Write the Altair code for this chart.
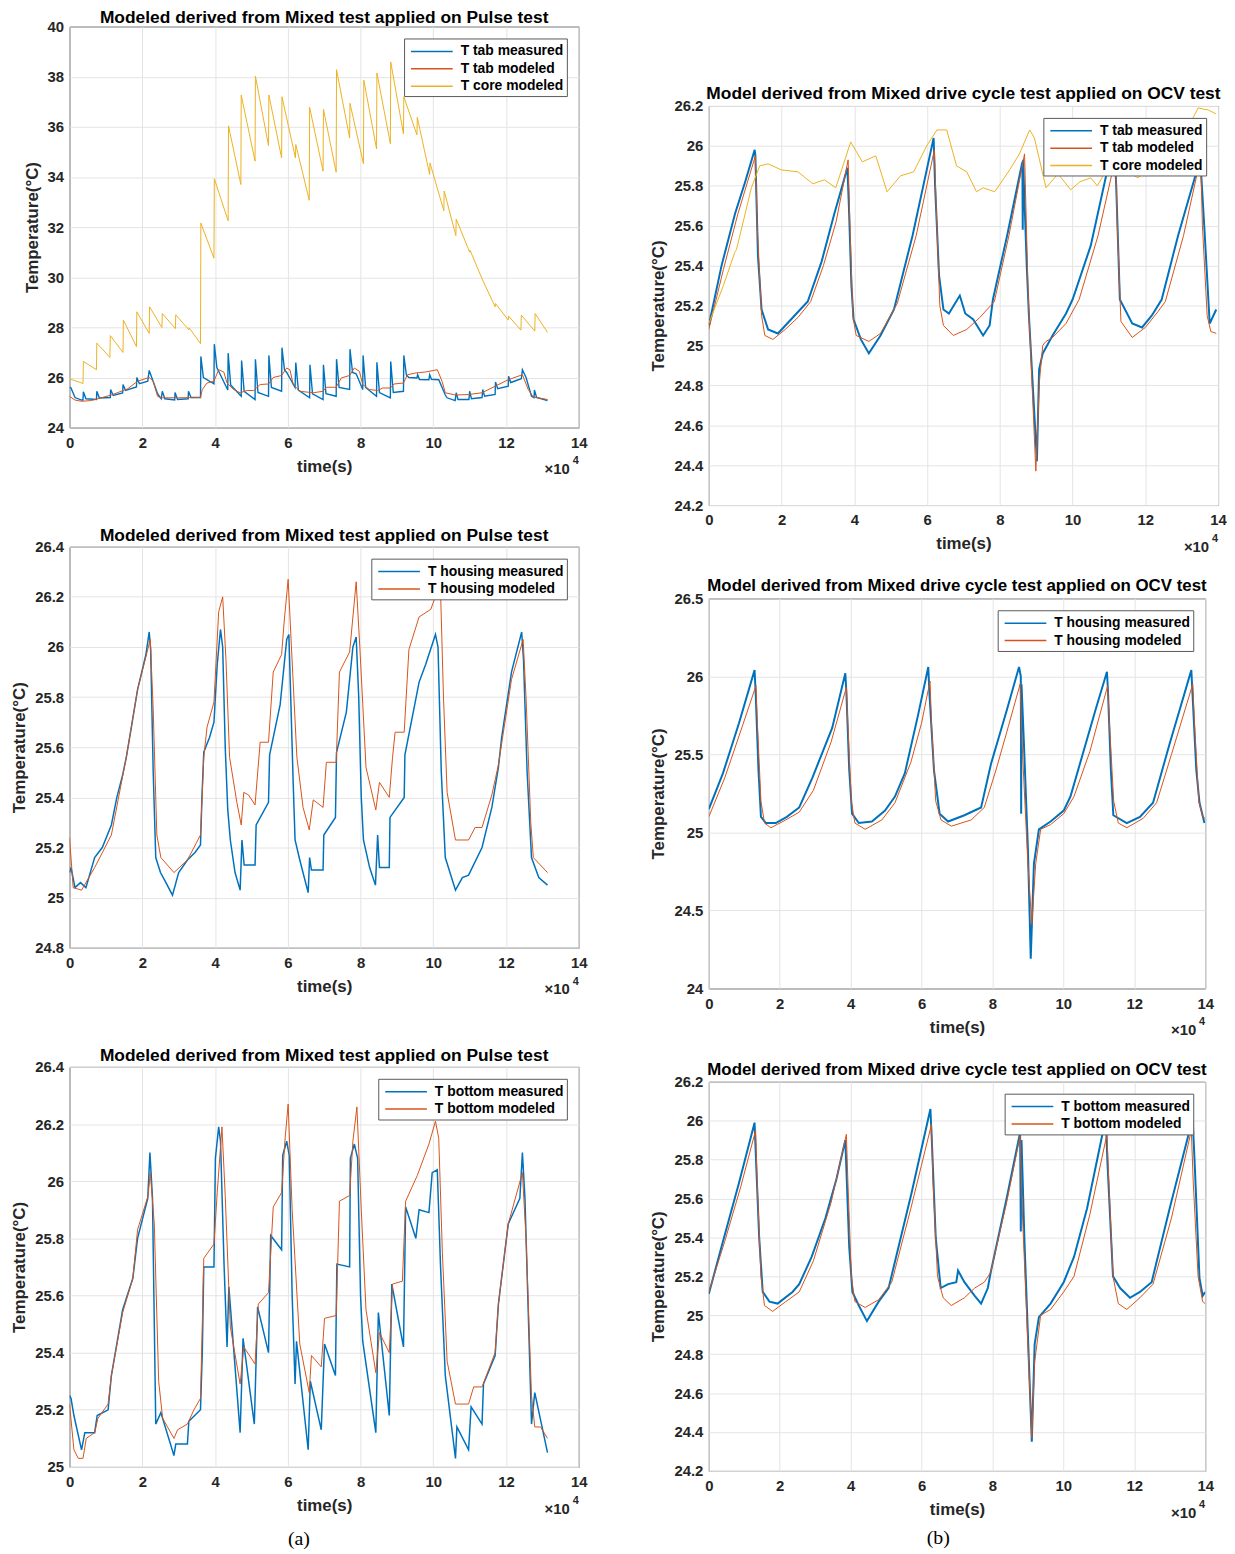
import altair as alt
import pandas as pd

FONT = "Liberation Sans"
BLUE, ORANGE, YELLOW = "#0072BD", "#D95319", "#EDB120"
INK = "#262626"

X_TICKS = [0, 2, 4, 6, 8, 10, 12, 14]
Y_TICKS_TAB_PULSE = [24, 26, 28, 30, 32, 34, 36, 38, 40]
Y_TICKS_HOUSE_PULSE = [24.8, 25.0, 25.2, 25.4, 25.6, 25.8, 26.0, 26.2, 26.4]
Y_TICKS_BOT_PULSE = [25.0, 25.2, 25.4, 25.6, 25.8, 26.0, 26.2, 26.4]
Y_TICKS_TAB_OCV = [24.2, 24.4, 24.6, 24.8, 25.0, 25.2, 25.4, 25.6, 25.8, 26.0, 26.2]
Y_TICKS_HOUSE_OCV = [24.0, 24.5, 25.0, 25.5, 26.0, 26.5]
Y_TICKS_BOT_OCV = [24.2, 24.4, 24.6, 24.8, 25.0, 25.2, 25.4, 25.6, 25.8, 26.0, 26.2]

# time in units of 1e4 s, temperature in degC
pulse_tab_meas = [
    (0.00, 25.62), (0.04, 25.58), (0.15, 25.20), (0.33, 25.10), (0.37, 25.10), (0.38, 25.43), (0.45, 25.15),
    (0.74, 25.12), (0.75, 25.45), (0.82, 25.18), (1.12, 25.20), (1.13, 25.52), (1.20, 25.28), (1.46, 25.38),
    (1.47, 25.72), (1.54, 25.48), (1.84, 25.62), (1.85, 26.00), (1.92, 25.75), (2.15, 25.85), (2.19, 26.28),
    (2.26, 26.00), (2.42, 25.35), (2.52, 25.15), (2.55, 25.45), (2.62, 25.15), (2.89, 25.10), (2.90, 25.40),
    (2.97, 25.12), (3.26, 25.15), (3.27, 25.45), (3.34, 25.20), (3.60, 25.20), (3.61, 26.84), (3.68, 26.00),
    (3.97, 25.75), (3.98, 27.33), (4.05, 26.40), (4.10, 26.25), (4.35, 25.50), (4.36, 26.97), (4.43, 25.70),
    (4.72, 25.25), (4.73, 26.68), (4.80, 25.45), (5.10, 25.12), (5.11, 26.73), (5.18, 25.40), (5.47, 25.25),
    (5.48, 26.88), (5.55, 25.60), (5.83, 25.45), (5.84, 27.19), (5.91, 26.30), (5.97, 26.20), (6.20, 25.60),
    (6.22, 26.60), (6.29, 25.50), (6.60, 25.19), (6.61, 26.51), (6.68, 25.35), (6.97, 25.12), (6.98, 26.51),
    (7.05, 25.35), (7.33, 25.25), (7.34, 26.73), (7.41, 25.60), (7.70, 25.52), (7.71, 27.13), (7.78, 26.20),
    (7.88, 26.15), (8.06, 25.52), (8.07, 26.88), (8.14, 25.60), (8.44, 25.25), (8.45, 26.61), (8.52, 25.40),
    (8.82, 25.19), (8.83, 26.64), (8.90, 25.40), (9.18, 25.45), (9.19, 26.88), (9.26, 26.10), (9.33, 26.00),
    (9.55, 25.98), (9.57, 26.11), (9.62, 25.92), (9.88, 25.91), (9.90, 26.11), (9.95, 25.93), (10.15, 25.91),
    (10.33, 25.30), (10.38, 25.19), (10.60, 25.08), (10.63, 25.39), (10.68, 25.12), (10.98, 25.12),
    (11.00, 25.45), (11.05, 25.15), (11.34, 25.20), (11.36, 25.52), (11.41, 25.25), (11.70, 25.32),
    (11.71, 25.82), (11.77, 25.55), (12.06, 25.65), (12.07, 26.05), (12.13, 25.80), (12.42, 25.95),
    (12.45, 26.31), (12.55, 26.00), (12.70, 25.25), (12.77, 25.20), (12.78, 25.50), (12.84, 25.20), (13.14, 25.08),
]
pulse_tab_mod = [
    (0.00, 25.25), (0.15, 25.10), (0.33, 25.05), (0.60, 25.08), (1.15, 25.30), (1.60, 25.55), (1.87, 25.85),
    (2.19, 26.00), (2.30, 25.85), (2.42, 25.25), (2.51, 25.19), (3.00, 25.19), (3.60, 25.20), (3.65, 25.52),
    (3.78, 25.78), (3.97, 25.85), (4.10, 26.31), (4.24, 26.22), (4.33, 25.78), (4.51, 25.52), (4.69, 25.39),
    (4.88, 25.48), (5.06, 25.48), (5.24, 25.72), (5.47, 25.74), (5.60, 26.00), (5.83, 26.08), (5.97, 26.38),
    (6.06, 26.30), (6.15, 25.72), (6.33, 25.45), (6.70, 25.39), (6.97, 25.45), (7.06, 25.61), (7.33, 25.61),
    (7.47, 25.98), (7.70, 26.08), (7.83, 26.38), (7.97, 26.24), (8.06, 25.72), (8.24, 25.52), (8.47, 25.48),
    (8.61, 25.58), (8.82, 25.58), (8.92, 25.74), (9.18, 25.78), (9.29, 26.11), (9.52, 26.18), (9.79, 26.22),
    (10.11, 26.31), (10.24, 25.85), (10.33, 25.39), (10.61, 25.30), (10.97, 25.32), (11.34, 25.39),
    (11.70, 25.65), (12.06, 25.91), (12.45, 26.11), (12.61, 25.52), (12.75, 25.22), (13.14, 25.12),
]
pulse_core_mod = [
    (0.00, 25.95), (0.37, 25.76), (0.38, 26.64), (0.74, 26.31), (0.75, 27.37), (1.11, 26.80), (1.12, 27.67),
    (1.47, 27.00), (1.48, 28.29), (1.84, 27.23), (1.85, 28.62), (2.19, 27.76), (2.20, 28.82), (2.54, 27.99),
    (2.55, 28.55), (2.91, 27.95), (2.92, 28.50), (3.28, 27.90), (3.29, 27.98), (3.60, 27.35), (3.61, 32.16),
    (3.97, 30.76), (3.98, 33.93), (4.36, 32.25), (4.37, 36.04), (4.71, 33.70), (4.72, 37.27), (5.10, 34.63),
    (5.11, 38.02), (5.47, 35.25), (5.48, 37.27), (5.83, 34.76), (5.84, 37.20), (6.21, 34.76), (6.22, 35.29),
    (6.59, 33.07), (6.60, 36.78), (6.97, 34.23), (6.98, 36.70), (7.33, 34.19), (7.34, 38.28), (7.70, 35.55),
    (7.71, 36.94), (8.08, 34.53), (8.09, 37.86), (8.44, 35.12), (8.45, 38.15), (8.82, 35.33), (8.83, 38.59),
    (9.18, 35.72), (9.19, 37.20), (9.55, 35.68), (9.56, 36.38), (9.90, 34.10), (9.91, 34.56), (10.29, 32.65),
    (10.30, 33.44), (10.62, 31.66), (10.63, 32.32), (11.00, 31.00), (11.01, 31.08), (11.34, 29.94),
    (11.70, 28.82), (11.71, 28.95), (12.06, 28.29), (12.07, 28.45), (12.41, 27.89), (12.42, 28.49),
    (12.79, 27.85), (12.80, 28.55), (13.14, 27.80),
]
pulse_house_meas = [
    (0.00, 25.10), (0.04, 25.12), (0.15, 25.04), (0.30, 25.06), (0.45, 25.04), (0.69, 25.16), (0.90, 25.20),
    (1.15, 25.29), (1.30, 25.40), (1.46, 25.49), (1.56, 25.56), (1.70, 25.68), (1.87, 25.83), (2.10, 25.97),
    (2.19, 26.06), (2.23, 25.99), (2.30, 25.50), (2.37, 25.16), (2.50, 25.10), (2.65, 25.06), (2.83, 25.01),
    (3.00, 25.10), (3.24, 25.15), (3.45, 25.18), (3.60, 25.21), (3.64, 25.40), (3.69, 25.58), (3.85, 25.64),
    (3.97, 25.70), (4.06, 25.93), (4.15, 26.07), (4.21, 26.00), (4.28, 25.60), (4.35, 25.35), (4.42, 25.23),
    (4.55, 25.10), (4.69, 25.03), (4.74, 25.23), (4.80, 25.13), (5.10, 25.13), (5.13, 25.29), (5.47, 25.38),
    (5.50, 25.57), (5.79, 25.77), (5.97, 26.03), (6.03, 26.05), (6.08, 25.80), (6.15, 25.45), (6.20, 25.23),
    (6.33, 25.15), (6.56, 25.02), (6.60, 25.16), (6.65, 25.11), (6.97, 25.11), (6.99, 25.25), (7.31, 25.32),
    (7.34, 25.58), (7.61, 25.74), (7.79, 26.00), (7.88, 26.04), (7.95, 25.80), (8.02, 25.40), (8.08, 25.23),
    (8.25, 25.12), (8.41, 25.05), (8.47, 25.25), (8.52, 25.12), (8.79, 25.12), (8.81, 25.32), (9.20, 25.40),
    (9.22, 25.57), (9.61, 25.86), (9.79, 25.93), (10.06, 26.05), (10.13, 26.00), (10.22, 25.50), (10.33, 25.16),
    (10.61, 25.03), (10.80, 25.08), (10.97, 25.09), (11.34, 25.20), (11.61, 25.36), (11.79, 25.52),
    (11.88, 25.64), (12.15, 25.90), (12.43, 26.06), (12.48, 25.95), (12.58, 25.50), (12.70, 25.16),
    (12.90, 25.08), (13.14, 25.05),
]
pulse_house_mod = [
    (0.00, 25.24), (0.10, 25.04), (0.33, 25.03), (0.69, 25.12), (1.15, 25.25), (1.56, 25.56), (1.87, 25.83),
    (2.22, 26.03), (2.30, 25.75), (2.40, 25.25), (2.51, 25.16), (2.87, 25.10), (3.24, 25.15), (3.60, 25.25),
    (3.69, 25.56), (3.78, 25.68), (3.97, 25.78), (4.10, 26.14), (4.21, 26.20), (4.30, 25.95), (4.40, 25.56),
    (4.60, 25.38), (4.72, 25.29), (4.79, 25.42), (4.92, 25.41), (5.10, 25.37), (5.24, 25.62), (5.47, 25.62),
    (5.60, 25.90), (5.83, 25.97), (5.90, 26.10), (6.01, 26.27), (6.10, 26.00), (6.25, 25.56), (6.42, 25.36),
    (6.59, 25.27), (6.70, 25.39), (6.97, 25.36), (7.06, 25.54), (7.33, 25.54), (7.42, 25.90), (7.70, 25.98),
    (7.88, 26.26), (7.98, 26.00), (8.15, 25.52), (8.42, 25.35), (8.52, 25.46), (8.79, 25.40), (8.88, 25.56),
    (8.95, 25.66), (9.20, 25.66), (9.33, 25.99), (9.61, 26.12), (9.93, 26.15), (10.11, 26.22), (10.20, 26.22),
    (10.28, 25.80), (10.38, 25.42), (10.61, 25.23), (10.97, 25.23), (11.15, 25.28), (11.34, 25.28),
    (11.61, 25.41), (11.79, 25.53), (12.15, 25.87), (12.47, 26.03), (12.55, 25.80), (12.68, 25.30),
    (12.75, 25.16), (13.14, 25.10),
]
pulse_bot_meas = [
    (0.00, 25.25), (0.04, 25.24), (0.12, 25.18), (0.33, 25.06), (0.42, 25.12), (0.69, 25.12), (0.76, 25.18),
    (1.06, 25.20), (1.15, 25.32), (1.46, 25.55), (1.74, 25.66), (1.87, 25.80), (2.15, 25.94), (2.21, 26.10),
    (2.28, 25.94), (2.33, 25.50), (2.37, 25.15), (2.51, 25.19), (2.87, 25.04), (2.92, 25.08), (3.24, 25.08),
    (3.28, 25.16), (3.60, 25.20), (3.65, 25.40), (3.69, 25.70), (3.97, 25.70), (4.01, 26.08), (4.10, 26.19),
    (4.15, 26.14), (4.25, 25.70), (4.33, 25.42), (4.38, 25.63), (4.69, 25.12), (4.77, 25.45), (5.08, 25.15),
    (5.17, 25.56), (5.47, 25.40), (5.53, 25.81), (5.83, 25.76), (5.86, 26.09), (5.97, 26.14), (6.04, 26.09),
    (6.12, 25.60), (6.20, 25.29), (6.24, 25.44), (6.56, 25.06), (6.62, 25.30), (6.92, 25.13), (7.01, 25.43),
    (7.31, 25.32), (7.35, 25.71), (7.70, 25.70), (7.72, 26.08), (7.83, 26.13), (7.92, 26.08), (8.00, 25.60),
    (8.06, 25.44), (8.42, 25.12), (8.49, 25.54), (8.79, 25.18), (8.86, 25.64), (9.18, 25.42), (9.24, 25.91),
    (9.52, 25.80), (9.61, 25.90), (9.88, 25.89), (9.97, 26.03), (10.11, 26.04), (10.20, 25.70), (10.33, 25.32),
    (10.61, 25.03), (10.65, 25.14), (10.97, 25.06), (11.04, 25.21), (11.34, 25.15), (11.38, 25.29),
    (11.70, 25.39), (11.79, 25.57), (12.06, 25.85), (12.38, 25.94), (12.45, 26.10), (12.52, 25.94),
    (12.62, 25.50), (12.70, 25.15), (12.79, 25.26), (13.14, 25.05),
]
pulse_bot_mod = [
    (0.00, 25.22), (0.12, 25.06), (0.24, 25.03), (0.37, 25.03), (0.46, 25.10), (0.69, 25.12), (0.78, 25.17),
    (1.06, 25.22), (1.15, 25.32), (1.46, 25.54), (1.74, 25.66), (1.87, 25.83), (2.16, 25.95), (2.22, 26.03),
    (2.33, 25.85), (2.45, 25.30), (2.56, 25.17), (2.87, 25.10), (2.97, 25.13), (3.24, 25.15), (3.42, 25.20),
    (3.60, 25.24), (3.65, 25.50), (3.69, 25.73), (3.97, 25.78), (4.06, 25.96), (4.19, 26.19), (4.28, 25.95),
    (4.42, 25.49), (4.69, 25.29), (4.79, 25.42), (5.10, 25.36), (5.19, 25.57), (5.47, 25.61), (5.60, 25.91),
    (5.83, 25.96), (5.92, 26.14), (6.01, 26.27), (6.12, 25.90), (6.33, 25.43), (6.59, 25.26), (6.65, 25.39),
    (6.92, 25.35), (7.01, 25.52), (7.33, 25.53), (7.42, 25.93), (7.70, 25.95), (7.79, 26.14), (7.90, 26.26),
    (8.02, 25.90), (8.15, 25.55), (8.42, 25.33), (8.52, 25.47), (8.79, 25.40), (8.88, 25.64), (9.15, 25.65),
    (9.24, 25.93), (9.56, 26.02), (9.88, 26.13), (10.06, 26.21), (10.15, 26.15), (10.25, 25.75),
    (10.38, 25.37), (10.61, 25.22), (10.97, 25.22), (11.11, 25.28), (11.34, 25.28), (11.70, 25.40),
    (11.79, 25.57), (12.06, 25.85), (12.45, 26.03), (12.55, 25.80), (12.70, 25.25), (12.79, 25.14),
    (12.95, 25.14), (13.14, 25.10),
]
ocv_tab_meas = [
    (0.00, 25.10), (0.35, 25.40), (0.72, 25.66), (1.00, 25.82), (1.26, 25.98), (1.28, 25.95), (1.35, 25.45),
    (1.45, 25.18), (1.63, 25.08), (1.90, 25.06), (2.36, 25.15), (2.72, 25.22), (3.10, 25.42), (3.45, 25.66),
    (3.81, 25.89), (3.85, 25.70), (3.92, 25.30), (3.98, 25.13), (4.18, 25.03), (4.40, 24.96), (4.72, 25.05),
    (5.09, 25.18), (5.60, 25.55), (6.18, 26.04), (6.22, 25.80), (6.33, 25.35), (6.45, 25.18), (6.60, 25.16),
    (6.90, 25.25), (7.05, 25.16), (7.27, 25.13), (7.54, 25.05), (7.72, 25.10), (7.81, 25.23), (8.20, 25.55),
    (8.62, 25.92), (8.63, 25.58), (8.64, 25.93), (8.74, 25.40), (8.80, 25.15), (9.02, 24.42), (9.08, 24.88),
    (9.18, 24.96), (9.45, 25.05), (9.82, 25.16), (10.00, 25.23), (10.50, 25.50), (10.91, 25.84),
    (11.15, 26.00), (11.20, 25.80), (11.30, 25.23), (11.64, 25.11), (11.91, 25.09), (12.18, 25.15),
    (12.45, 25.23), (12.90, 25.55), (13.36, 25.84), (13.50, 25.97), (13.62, 25.60), (13.77, 25.11), (13.95, 25.18),
]
ocv_tab_mod = [
    (0.00, 25.08), (0.40, 25.38), (0.80, 25.66), (1.28, 25.95), (1.33, 25.60), (1.45, 25.15), (1.54, 25.05),
    (1.76, 25.03), (2.10, 25.08), (2.45, 25.14), (2.80, 25.22), (3.15, 25.40), (3.50, 25.62), (3.83, 25.93),
    (3.88, 25.60), (3.96, 25.15), (4.05, 25.05), (4.40, 25.02), (4.72, 25.06), (5.18, 25.21), (5.70, 25.55),
    (6.20, 25.98), (6.25, 25.70), (6.35, 25.20), (6.45, 25.10), (6.72, 25.05), (7.09, 25.08), (7.45, 25.14),
    (7.85, 25.22), (8.25, 25.55), (8.68, 25.96), (8.78, 25.25), (8.99, 24.37), (9.09, 24.82), (9.18, 25.00),
    (9.27, 25.02), (9.45, 25.04), (9.82, 25.11), (10.18, 25.23), (10.70, 25.55), (11.18, 25.94),
    (11.23, 25.60), (11.33, 25.12), (11.64, 25.04), (12.00, 25.09), (12.35, 25.17), (12.55, 25.22),
    (13.05, 25.55), (13.52, 25.94), (13.57, 25.60), (13.70, 25.15), (13.80, 25.07), (13.95, 25.06),
]
ocv_core_mod = [
    (0.00, 25.11), (0.40, 25.30), (0.72, 25.47), (0.76, 25.48), (1.17, 25.79), (1.40, 25.90), (1.63, 25.91),
    (1.99, 25.88), (2.45, 25.87), (2.86, 25.81), (3.18, 25.83), (3.49, 25.79), (3.90, 26.02), (4.22, 25.92),
    (4.59, 25.95), (4.90, 25.77), (5.27, 25.85), (5.63, 25.87), (5.99, 26.00), (6.27, 26.08), (6.54, 26.08),
    (6.81, 25.90), (7.09, 25.87), (7.36, 25.77), (7.54, 25.79), (7.86, 25.77), (8.27, 25.88), (8.54, 25.96),
    (8.82, 26.08), (8.95, 26.04), (9.27, 25.79), (9.60, 25.86), (9.95, 25.78), (10.20, 25.82), (10.50, 25.84),
    (10.68, 25.80), (11.00, 25.90), (11.40, 25.88), (11.80, 25.84), (12.30, 25.92), (12.80, 26.00),
    (13.20, 26.10), (13.45, 26.19), (13.73, 26.18), (13.95, 26.16),
]
ocv_house_meas = [
    (0.00, 25.15), (0.40, 25.38), (0.85, 25.70), (1.29, 26.04), (1.32, 25.90), (1.40, 25.40), (1.47, 25.10),
    (1.61, 25.06), (1.89, 25.06), (2.20, 25.10), (2.55, 25.16), (2.92, 25.35), (3.48, 25.67), (3.85, 26.02),
    (3.88, 25.90), (3.96, 25.40), (4.04, 25.12), (4.23, 25.06), (4.60, 25.07), (4.97, 25.14), (5.25, 25.23),
    (5.53, 25.38), (5.90, 25.75), (6.19, 26.06), (6.22, 25.90), (6.35, 25.40), (6.51, 25.12), (6.75, 25.07),
    (7.21, 25.11), (7.68, 25.16), (7.96, 25.44), (8.40, 25.78), (8.75, 26.06), (8.80, 26.00), (8.81, 25.12),
    (8.82, 25.95), (8.90, 25.50), (9.00, 24.90), (9.08, 24.19), (9.17, 24.80), (9.31, 25.02), (9.64, 25.07),
    (10.01, 25.14), (10.20, 25.23), (10.57, 25.52), (10.90, 25.78), (11.23, 26.03), (11.26, 25.90),
    (11.34, 25.40), (11.41, 25.11), (11.79, 25.06), (12.16, 25.10), (12.53, 25.19), (13.00, 25.57),
    (13.30, 25.80), (13.61, 26.04), (13.64, 25.90), (13.75, 25.40), (13.84, 25.19), (13.98, 25.06),
]
ocv_house_mod = [
    (0.00, 25.10), (0.45, 25.35), (0.90, 25.65), (1.33, 25.94), (1.37, 25.70), (1.47, 25.20), (1.57, 25.06),
    (1.75, 25.03), (2.17, 25.08), (2.55, 25.13), (2.95, 25.27), (3.45, 25.58), (3.88, 25.93), (3.92, 25.70),
    (4.02, 25.20), (4.12, 25.06), (4.41, 25.02), (4.88, 25.08), (5.25, 25.19), (5.70, 25.45), (6.00, 25.70),
    (6.24, 25.97), (6.28, 25.70), (6.40, 25.20), (6.55, 25.08), (6.84, 25.04), (7.40, 25.08), (7.77, 25.16),
    (8.10, 25.40), (8.45, 25.68), (8.78, 25.95), (8.85, 25.50), (9.00, 24.80), (9.11, 24.41), (9.22, 24.80),
    (9.36, 25.02), (9.64, 25.05), (10.01, 25.12), (10.30, 25.23), (10.75, 25.52), (11.25, 25.94),
    (11.30, 25.70), (11.42, 25.20), (11.55, 25.06), (11.79, 25.03), (12.25, 25.09), (12.63, 25.19),
    (13.05, 25.50), (13.65, 25.95), (13.70, 25.70), (13.82, 25.20), (13.93, 25.10), (14.00, 25.09),
]
ocv_bot_meas = [
    (0.00, 25.11), (0.40, 25.38), (0.85, 25.68), (1.29, 25.99), (1.32, 25.85), (1.42, 25.40), (1.52, 25.12),
    (1.71, 25.07), (1.94, 25.06), (2.36, 25.12), (2.55, 25.16), (2.90, 25.30), (3.29, 25.50), (3.60, 25.70),
    (3.85, 25.90), (3.88, 25.75), (3.96, 25.35), (4.05, 25.12), (4.23, 25.05), (4.46, 24.97), (4.79, 25.07),
    (5.07, 25.14), (5.11, 25.17), (5.72, 25.63), (6.25, 26.06), (6.29, 25.90), (6.40, 25.40), (6.54, 25.14),
    (6.75, 25.16), (6.98, 25.17), (7.03, 25.23), (7.21, 25.17), (7.50, 25.10), (7.68, 25.06), (7.87, 25.14),
    (7.95, 25.22), (8.40, 25.60), (8.78, 25.94), (8.80, 25.43), (8.82, 25.90), (8.90, 25.40), (9.00, 24.90),
    (9.11, 24.35), (9.19, 24.85), (9.31, 24.99), (9.64, 25.06), (10.01, 25.17), (10.30, 25.30),
    (10.67, 25.55), (11.09, 25.92), (11.20, 26.00), (11.24, 25.80), (11.40, 25.20), (11.60, 25.14),
    (11.88, 25.09), (12.16, 25.12), (12.49, 25.17), (13.00, 25.55), (13.56, 25.95), (13.65, 26.00),
    (13.70, 25.80), (13.84, 25.19), (13.93, 25.10), (14.00, 25.12),
]
ocv_bot_mod = [
    (0.00, 25.12), (0.45, 25.38), (0.90, 25.66), (1.32, 25.95), (1.36, 25.70), (1.47, 25.20), (1.57, 25.05),
    (1.80, 25.02), (2.17, 25.07), (2.55, 25.12), (2.95, 25.28), (3.45, 25.58), (3.88, 25.93), (3.92, 25.70),
    (4.02, 25.20), (4.12, 25.07), (4.41, 25.04), (4.79, 25.08), (5.16, 25.17), (5.70, 25.55), (6.28, 25.98),
    (6.32, 25.70), (6.45, 25.20), (6.61, 25.09), (6.84, 25.05), (7.21, 25.09), (7.50, 25.14), (7.77, 25.17),
    (7.95, 25.22), (8.40, 25.58), (8.78, 25.92), (8.85, 25.50), (9.00, 24.85), (9.11, 24.37), (9.19, 24.76),
    (9.36, 25.00), (9.64, 25.03), (10.01, 25.12), (10.30, 25.20), (10.75, 25.52), (11.23, 25.93),
    (11.28, 25.70), (11.40, 25.20), (11.55, 25.06), (11.79, 25.03), (12.16, 25.09), (12.53, 25.16),
    (13.05, 25.50), (13.61, 25.95), (13.66, 25.70), (13.80, 25.20), (13.93, 25.07), (14.00, 25.06),
]

TITLE_PULSE = "Modeled derived from Mixed test applied on Pulse test"
TITLE_OCV = "Model derived from Mixed drive cycle test applied on OCV test"


def panel(title, series, ydom, yticks, W, H, title_size=17.5, title_offset=-7):
    names = [s[0] for s in series]
    cols = [s[1] for s in series]
    legend = alt.Legend(
        title=None, orient="top-right", offset=12, fillColor="white", strokeColor="#5a5a5a",
        padding=3, symbolType="M-0.667,0H4", symbolSize=324, symbolStrokeWidth=1.5,
        labelFont=FONT, labelFontSize=14, labelFontWeight="bold", labelColor="black",
        rowPadding=0.5, labelOffset=34,
    )
    color = alt.Color("s:N", scale=alt.Scale(domain=names, range=cols), legend=legend)
    xenc = alt.X("t:Q", scale=alt.Scale(domain=[0, 14], nice=False),
                 axis=alt.Axis(values=X_TICKS, title="time(s)", format="~g", labelFlush=False,
                               labelPadding=8, titlePadding=8, labelOverlap=False))
    yenc = alt.Y("v:Q", scale=alt.Scale(domain=ydom, nice=False, zero=False),
                 axis=alt.Axis(values=yticks, title="Temperature(°C)", format="~g", labelFlush=False,
                               labelPadding=6, titlePadding=6, labelOverlap=False))
    layers = []
    for name, col, sw, pts in series:
        df = pd.DataFrame(pts, columns=["t", "v"])
        df["s"] = name
        df["o"] = range(len(df))
        layers.append(
            alt.Chart(df).mark_line(strokeWidth=sw, clip=True).encode(
                x=xenc, y=yenc, color=color, order=alt.Order("o:Q")
            )
        )
    sci = pd.DataFrame({"txt": ["×10"]})
    exp4 = pd.DataFrame({"txt": ["4"]})
    layers.append(
        alt.Chart(sci).mark_text(align="right", baseline="alphabetic", font=FONT, fontSize=15,
                                 fontWeight="bold", color=INK)
        .encode(text="txt:N", x=alt.value(W - 9), y=alt.value(H + 47))
    )
    layers.append(
        alt.Chart(exp4).mark_text(align="right", baseline="alphabetic", font=FONT, fontSize=11,
                                  fontWeight="bold", color=INK)
        .encode(text="txt:N", x=alt.value(W), y=alt.value(H + 37))
    )
    return alt.layer(*layers).properties(
        width=W, height=H,
        title=alt.TitleParams(title, font=FONT, fontSize=title_size, fontWeight="bold",
                              color="black", anchor="middle", offset=title_offset),
    )


p1 = panel(TITLE_PULSE, [
    ("T tab measured", BLUE, 1.4, pulse_tab_meas),
    ("T tab modeled", ORANGE, 1.0, pulse_tab_mod),
    ("T core modeled", YELLOW, 1.0, pulse_core_mod),
], [24, 40], Y_TICKS_TAB_PULSE, 513, 404)
p2 = panel(TITLE_PULSE, [
    ("T housing measured", BLUE, 1.5, pulse_house_meas),
    ("T housing modeled", ORANGE, 1.0, pulse_house_mod),
], [24.8, 26.4], Y_TICKS_HOUSE_PULSE, 513, 404, title_offset=-5)
p3 = panel(TITLE_PULSE, [
    ("T bottom measured", BLUE, 1.5, pulse_bot_meas),
    ("T bottom modeled", ORANGE, 1.0, pulse_bot_mod),
], [25.0, 26.4], Y_TICKS_BOT_PULSE, 513, 403, title_offset=-5)

q1 = panel(TITLE_OCV, [
    ("T tab measured", BLUE, 2.0, ocv_tab_meas),
    ("T tab modeled", ORANGE, 1.0, ocv_tab_mod),
    ("T core modeled", YELLOW, 1.0, ocv_core_mod),
], [24.2, 26.2], Y_TICKS_TAB_OCV, 513, 402, title_offset=-3)
q2 = panel(TITLE_OCV, [
    ("T housing measured", BLUE, 2.0, ocv_house_meas),
    ("T housing modeled", ORANGE, 1.0, ocv_house_mod),
], [24.0, 26.5], Y_TICKS_HOUSE_OCV, 500, 393, title_size=17, title_offset=-4)
q3 = panel(TITLE_OCV, [
    ("T bottom measured", BLUE, 2.0, ocv_bot_meas),
    ("T bottom modeled", ORANGE, 1.0, ocv_bot_mod),
], [24.2, 26.2], Y_TICKS_BOT_OCV, 500, 392, title_size=17, title_offset=-4)

SPACER_H = 36
spacer = alt.Chart(pd.DataFrame({"z": [0]})).mark_rect(opacity=0).encode(
    x=alt.value(0), x2=alt.value(1), y=alt.value(0), y2=alt.value(SPACER_H)
).properties(width=1, height=SPACER_H, view=alt.ViewBackground(stroke="transparent"))

left = alt.vconcat(
    p1, p2, p3, spacing=49,
    title=alt.TitleParams("(a)", orient="bottom", font="Liberation Serif", fontSize=20,
                          fontWeight="normal", color="black", anchor="middle", offset=12),
).resolve_scale(color="independent").resolve_legend(color="independent")

right = alt.vconcat(
    spacer, q1, q2, q3, spacing=21,
    title=alt.TitleParams("(b)", orient="bottom", font="Liberation Serif", fontSize=20,
                          fontWeight="normal", color="black", anchor="middle", offset=7),
).resolve_scale(color="independent").resolve_legend(color="independent")

chart = alt.hconcat(left, right, spacing=62).resolve_scale(color="independent").resolve_legend(
    color="independent"
).properties(
    padding={"left": 2, "top": -5, "right": 0, "bottom": 0}
).configure_axis(
    labelFont=FONT, labelFontSize=15, labelFontWeight="bold", labelColor=INK,
    titleFont=FONT, titleFontSize=17, titleFontWeight="bold", titleColor=INK,
    grid=True, gridColor="#e4e4e4", gridWidth=1, domain=False, ticks=False,
).configure_view(stroke=INK, strokeWidth=1)

chart.save("out.html", embed_options={"renderer": "svg", "actions": False})
